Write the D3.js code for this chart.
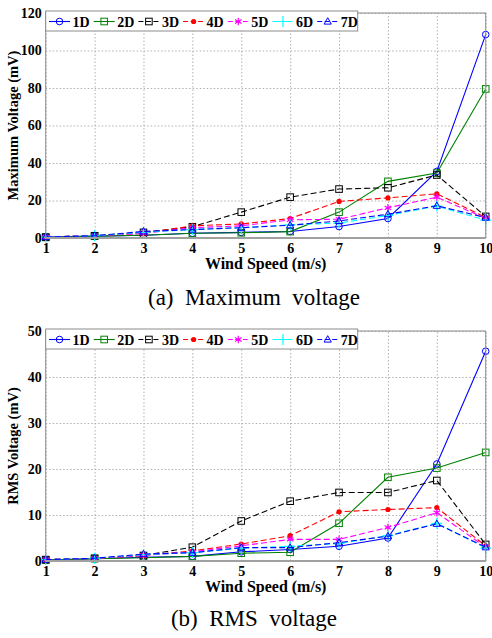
<!DOCTYPE html>
<html>
<head>
<meta charset="utf-8">
<script src="https://cdn.jsdelivr.net/npm/d3@7"></script>
<style>
  body { margin: 0; background: #fff; }
  text { font-family: "Liberation Serif", "Times New Roman", serif; }
</style>
</head>
<body>
<div id="chart"></div>
<script>
// wind speed (m/s)
const windSpeed = [1, 2, 3, 4, 5, 6, 7, 8, 9, 10];
const seriesNames = ["1D", "2D", "3D", "4D", "5D", "6D", "7D"];
const yTicksMax = [0, 20, 40, 60, 80, 100, 120];
const yTicksRms = [0, 10, 20, 30, 40, 50];

// maximum voltage (mV)
const max1D = [0.5, 1.0, 1.5, 2.5, 3.0, 3.5, 6.1, 10.4, 35.5, 108.5];
const max2D = [0.3, 1.0, 1.5, 2.5, 2.8, 3.4, 13.8, 30.2, 34.6, 79.5];
const max3D = [0.5, 1.2, 3.0, 6.0, 13.8, 21.8, 26.1, 26.8, 33.6, 11.5];
const max4D = [0.5, 1.2, 2.5, 6.5, 7.5, 10.4, 19.5, 21.4, 23.6, 11.0];
const max5D = [0.5, 1.2, 2.5, 5.5, 6.5, 9.7, 10.0, 16.1, 21.8, 10.5];
const max6D = [0.5, 1.2, 3.0, 4.5, 5.5, 7.0, 8.0, 12.0, 17.0, 9.5];
const max7D = [0.5, 1.2, 3.5, 4.5, 5.5, 6.8, 9.1, 12.7, 17.2, 10.9];

// RMS voltage (mV)
const rms1D = [0.2, 0.5, 0.8, 1.0, 2.0, 2.5, 3.2, 5.0, 21.1, 45.6];
const rms2D = [0.2, 0.5, 0.7, 1.0, 1.7, 1.9, 8.2, 18.2, 20.2, 23.6];
const rms3D = [0.3, 0.6, 1.2, 3.0, 8.7, 13.0, 14.9, 14.9, 17.5, 3.6];
const rms4D = [0.3, 0.6, 1.2, 2.2, 3.7, 5.5, 10.7, 11.2, 11.6, 3.3];
const rms5D = [0.3, 0.6, 1.2, 2.0, 3.3, 4.7, 4.7, 7.3, 10.5, 3.0];
const rms6D = [0.3, 0.6, 1.4, 1.8, 2.8, 3.2, 3.8, 5.5, 8.2, 2.8];
const rms7D = [0.3, 0.6, 1.5, 1.8, 2.9, 2.9, 4.0, 5.4, 8.1, 3.0];

const maxData = [max1D, max2D, max3D, max4D, max5D, max6D, max7D];
const rmsData = [rms1D, rms2D, rms3D, rms4D, rms5D, rms6D, rms7D];

// line styles for each series
const styles = [
  { color: "#0000ff", dash: null, marker: "circle" },
  { color: "#008000", dash: null, marker: "square" },
  { color: "#000000", dash: "6,3", marker: "square" },
  { color: "#ff0000", dash: "6,3", marker: "dot" },
  { color: "#ff00ff", dash: "6,3", marker: "star" },
  { color: "#00ffff", dash: "6,3", marker: "plus" },
  { color: "#0000ff", dash: "6,3", marker: "triangle" }
];

const svg = d3.select("#chart")
  .append("svg")
  .attr("width", 492)
  .attr("height", 638);

function drawMarker(g, type, cx, cy, color) {
  if (type === "circle") {
    g.append("circle").attr("cx", cx).attr("cy", cy).attr("r", 3.3)
      .attr("fill", "none").attr("stroke", color).attr("stroke-width", 1);
  } else if (type === "square") {
    g.append("rect").attr("x", cx - 3.3).attr("y", cy - 3.3).attr("width", 6.6).attr("height", 6.6)
      .attr("fill", "none").attr("stroke", color).attr("stroke-width", 1);
  } else if (type === "dot") {
    g.append("circle").attr("cx", cx).attr("cy", cy).attr("r", 2.6).attr("fill", color);
  } else if (type === "star") {
    g.append("path").attr("d", d3.symbol(d3.symbolAsterisk, 40)()).attr("transform", `translate(${cx},${cy})`)
      .attr("fill", "none").attr("stroke", color).attr("stroke-width", 1.2);
  } else if (type === "plus") {
    g.append("path").attr("d", d3.symbol(d3.symbolCross2 || d3.symbolPlus, 40)()).attr("transform", `translate(${cx},${cy})`)
      .attr("fill", "none").attr("stroke", color).attr("stroke-width", 1.2);
  } else if (type === "triangle") {
    g.append("path").attr("d", `M${cx},${cy - 3.8}L${cx + 3.6},${cy + 2.6}L${cx - 3.6},${cy + 2.6}Z`)
      .attr("fill", "none").attr("stroke", color).attr("stroke-width", 1);
  }
}

function drawPanel(opts) {
  const left = 45.7, right = 485.7;
  const x = d3.scaleLinear().domain([1, 10]).range([left, right]);
  const y = d3.scaleLinear().domain(opts.yDomain).range([opts.bottom, opts.top]);
  const g = svg.append("g");

  // grid
  g.append("g")
    .attr("transform", `translate(0,${opts.bottom})`)
    .call(d3.axisBottom(x).tickValues(windSpeed).tickSize(-(opts.bottom - opts.top)).tickFormat(""))
    .call(a => a.select(".domain").remove())
    .selectAll("line").attr("stroke", "#b0b0b0").attr("stroke-dasharray", "1.5,2");
  g.append("g")
    .attr("transform", `translate(${left},0)`)
    .call(d3.axisLeft(y).tickValues(opts.yTicks).tickSize(-(right - left)).tickFormat(""))
    .call(a => a.select(".domain").remove())
    .selectAll("line").attr("stroke", "#b0b0b0").attr("stroke-dasharray", "1.5,2");

  // series
  const line = d3.line().x((d, i) => x(windSpeed[i])).y(d => y(d));
  opts.data.forEach((vals, k) => {
    const st = styles[k];
    g.append("path").datum(vals)
      .attr("d", line)
      .attr("fill", "none")
      .attr("stroke", st.color)
      .attr("stroke-width", 1.1)
      .attr("stroke-dasharray", st.dash);
    const mg = g.append("g");
    vals.forEach((v, i) => drawMarker(mg, st.marker, x(windSpeed[i]), y(v), st.color));
  });

  // frame
  g.append("rect")
    .attr("x", left).attr("y", opts.top)
    .attr("width", right - left).attr("height", opts.bottom - opts.top)
    .attr("fill", "none").attr("stroke", "#8c8c8c").attr("stroke-width", 1);
  g.append("line").attr("x1", left).attr("x2", right).attr("y1", opts.bottom).attr("y2", opts.bottom)
    .attr("stroke", "#a0a0a0").attr("stroke-width", 2);

  // tick labels
  const xa = g.append("g")
    .attr("transform", `translate(0,${opts.bottom})`)
    .call(d3.axisBottom(x).tickValues(windSpeed).tickSize(0).tickPadding(5));
  xa.select(".domain").remove();
  xa.selectAll("text").attr("font-size", 14).attr("font-weight", "bold")
    .attr("font-family", "Liberation Serif").attr("fill", "#000");
  const ya = g.append("g")
    .attr("transform", `translate(${left},0)`)
    .call(d3.axisLeft(y).tickValues(opts.yTicks).tickSize(0).tickPadding(4));
  ya.select(".domain").remove();
  ya.selectAll("text").attr("font-size", 14).attr("font-weight", "bold")
    .attr("font-family", "Liberation Serif").attr("fill", "#000");

  // axis titles
  g.append("text")
    .attr("x", (left + right) / 2).attr("y", opts.bottom + 31)
    .attr("text-anchor", "middle").attr("font-size", 16).attr("font-weight", "bold")
    .text("Wind Speed (m/s)");
  g.append("text")
    .attr("transform", `translate(18,${(opts.top + opts.bottom) / 2}) rotate(-90)`)
    .attr("text-anchor", "middle").attr("font-size", 14.5).attr("font-weight", "bold")
    .text(opts.yLabel);

  // legend
  const lg = g.append("g");
  lg.append("rect")
    .attr("x", left).attr("y", opts.top - 2)
    .attr("width", 312).attr("height", 20)
    .attr("fill", "#fff").attr("stroke", "#8c8c8c");
  seriesNames.forEach((name, k) => {
    const st = styles[k];
    const x0 = 49 + k * 44.7, ly = opts.top + 8.5;
    lg.append("line").attr("x1", x0).attr("x2", x0 + 21).attr("y1", ly).attr("y2", ly)
      .attr("stroke", st.color).attr("stroke-width", 1.1).attr("stroke-dasharray", st.dash ? "5,2.5" : null);
    drawMarker(lg, st.marker, x0 + 10.5, ly, st.color);
    lg.append("text").attr("x", x0 + 23.5).attr("y", ly + 5)
      .attr("font-size", 14).attr("font-weight", "bold").text(name);
  });

  // caption
  svg.append("text")
    .attr("x", 254).attr("y", opts.captionY)
    .attr("text-anchor", "middle").attr("font-size", 23)
    .style("white-space", "pre")
    .text(opts.caption);
}

drawPanel({
  top: 13, bottom: 238, yDomain: [0, 120], yTicks: yTicksMax,
  data: maxData, yLabel: "Maximum Voltage (mV)",
  caption: "(a)  Maximum  voltage", captionY: 305
});
drawPanel({
  top: 331, bottom: 561, yDomain: [0, 50], yTicks: yTicksRms,
  data: rmsData, yLabel: "RMS Voltage (mV)",
  caption: "(b)  RMS  voltage", captionY: 626
});
</script>
</body>
</html>
